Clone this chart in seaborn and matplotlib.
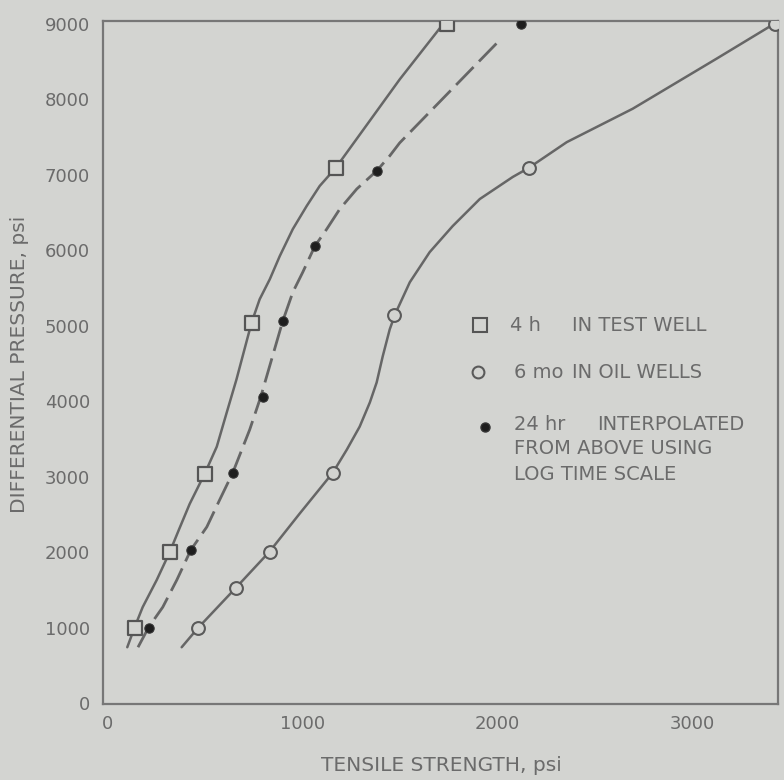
import matplotlib
matplotlib.use("Agg")
import matplotlib.pyplot as plt
import seaborn as sns
import pandas as pd

# ---- data ----
sq_x = [138, 318, 497, 738, 1169, 1740]
sq_y = [1000, 2000, 3040, 5040, 7090, 9000]

fc_x = [210, 426, 641, 795, 897, 1062, 1379, 2120]
fc_y = [1000, 2030, 3050, 4060, 5060, 6050, 7050, 9000]

oc_x = [462, 656, 830, 1154, 1470, 2159, 3420]
oc_y = [1000, 1527, 2010, 3050, 5140, 7090, 9000]

# hand-drawn curves
sq_curve_x = [100, 138, 179, 251, 318, 365, 420, 497, 559, 610, 660, 738, 779, 831, 882, 949, 1020, 1087, 1169, 1497, 1740]
sq_curve_y = [743, 1009, 1274, 1633, 2004, 2300, 2640, 3040, 3398, 3850, 4288, 5045, 5350, 5615, 5921, 6279, 6584, 6850, 7089, 8260, 9060]

fc_curve_x = [155, 210, 282, 354, 426, 508, 574, 641, 728, 785, 897, 949, 1000, 1062, 1123, 1190, 1277, 1379, 1446, 1497, 2010]
fc_curve_y = [743, 1009, 1274, 1633, 2031, 2336, 2695, 3053, 3624, 4062, 5058, 5443, 5708, 6053, 6279, 6545, 6810, 7049, 7248, 7420, 8780]

oc_curve_x = [379, 462, 656, 830, 985, 1154, 1226, 1292, 1344, 1379, 1410, 1446, 1475, 1549, 1651, 1769, 1908, 2077, 2159, 2354, 2692, 3123, 3420]
oc_curve_y = [743, 996, 1527, 2010, 2515, 3053, 3359, 3664, 3983, 4248, 4593, 4951, 5160, 5575, 5974, 6319, 6677, 6969, 7089, 7430, 7872, 8536, 9000]

x_ticks = [0, 1000, 2000, 3000]
y_ticks = [0, 1000, 2000, 3000, 4000, 5000, 6000, 7000, 8000, 9000]

legend_prefix = ["4 h", "6 mo", "24 hr"]
legend_main = ["IN TEST WELL", "IN OIL WELLS", "INTERPOLATED"]
legend_extra = ["FROM ABOVE USING", "LOG TIME SCALE"]

# ---- style ----
sns.set_theme(style="white")
plt.rcParams['font.family'] = ['DejaVu Sans']
BG = "#d3d4d1"
INK = "#6b6b6b"
LINE = "#666666"

fig = plt.figure(figsize=(7.84, 7.80), dpi=100, facecolor=BG)
ax = fig.add_axes([0.131, 0.097, 0.861, 0.876])
ax.set_facecolor(BG)

sq_curve = pd.DataFrame({"x": sq_curve_x, "y": sq_curve_y})
fc_curve = pd.DataFrame({"x": fc_curve_x, "y": fc_curve_y})
oc_curve = pd.DataFrame({"x": oc_curve_x, "y": oc_curve_y})

sns.lineplot(data=sq_curve, x="x", y="y", sort=False, ax=ax, color=LINE, lw=1.8, zorder=2)
sns.lineplot(data=oc_curve, x="x", y="y", sort=False, ax=ax, color=LINE, lw=1.8, zorder=2)
sns.lineplot(data=fc_curve, x="x", y="y", sort=False, ax=ax, color=LINE, lw=2.0, zorder=2)
ax.lines[-1].set_dashes((9, 2.8))

sns.scatterplot(x=sq_x, y=sq_y, ax=ax, marker="s", s=110, facecolor=BG,
                edgecolor="#555555", linewidth=1.6, zorder=3)
sns.scatterplot(x=oc_x, y=oc_y, ax=ax, marker="o", s=85, facecolor=BG,
                edgecolor="#5a5a5a", linewidth=1.5, zorder=3)
sns.scatterplot(x=fc_x, y=fc_y, ax=ax, marker="o", s=45, facecolor="#1e1e1e",
                edgecolor="#333333", linewidth=0.8, zorder=4)

ax.set_xlim(-26, 3436)
ax.set_ylim(-13, 9033)
ax.set_xticks(x_ticks)
ax.set_yticks(y_ticks)
ax.set_xticklabels([str(v) for v in x_ticks])
ax.set_yticklabels([str(v) for v in y_ticks])
ax.tick_params(axis="both", length=0, colors=INK, labelsize=13)
ax.tick_params(axis="y", pad=9)
ax.tick_params(axis="x", pad=8)

for side in ["left", "right", "top", "bottom"]:
    ax.spines[side].set_visible(True)
    ax.spines[side].set_color("#777777")
    ax.spines[side].set_linewidth(1.6)

ax.set_xlabel("TENSILE STRENGTH, psi", color=INK, fontsize=14.5)
ax.set_ylabel("DIFFERENTIAL PRESSURE, psi", color=INK, fontsize=14.5)
ax.xaxis.set_label_coords(0.502, -0.089)
ax.yaxis.set_label_coords(-0.124, 0.498)
ax.xaxis.label.set_va("center")
ax.yaxis.label.set_va("center")

# manual legend (as in the original figure)
tr = ax.transAxes
FS = 14
ax.plot([0.559], [0.555], marker="s", ms=9.5, mfc=BG, mec="#555555", mew=1.5, transform=tr, clip_on=False)
ax.plot([0.556], [0.486], marker="o", ms=8.5, mfc=BG, mec="#5a5a5a", mew=1.5, transform=tr, clip_on=False)
ax.plot([0.566], [0.406], marker="o", ms=6.5, mfc="#1e1e1e", mec="#333333", transform=tr, clip_on=False)

ax.text(0.603, 0.555, legend_prefix[0], transform=tr, color=INK, fontsize=FS, va="center", ha="left")
ax.text(0.695, 0.555, legend_main[0], transform=tr, color=INK, fontsize=FS, va="center", ha="left")
ax.text(0.610, 0.486, legend_prefix[1], transform=tr, color=INK, fontsize=FS, va="center", ha="left")
ax.text(0.695, 0.486, legend_main[1], transform=tr, color=INK, fontsize=FS, va="center", ha="left")
ax.text(0.610, 0.409, legend_prefix[2], transform=tr, color=INK, fontsize=FS, va="center", ha="left")
ax.text(0.732, 0.409, legend_main[2], transform=tr, color=INK, fontsize=FS, va="center", ha="left")
ax.text(0.610, 0.375, legend_extra[0], transform=tr, color=INK, fontsize=FS, va="center", ha="left")
ax.text(0.610, 0.336, legend_extra[1], transform=tr, color=INK, fontsize=FS, va="center", ha="left")

fig.savefig("out.png", dpi=100, facecolor=BG)
